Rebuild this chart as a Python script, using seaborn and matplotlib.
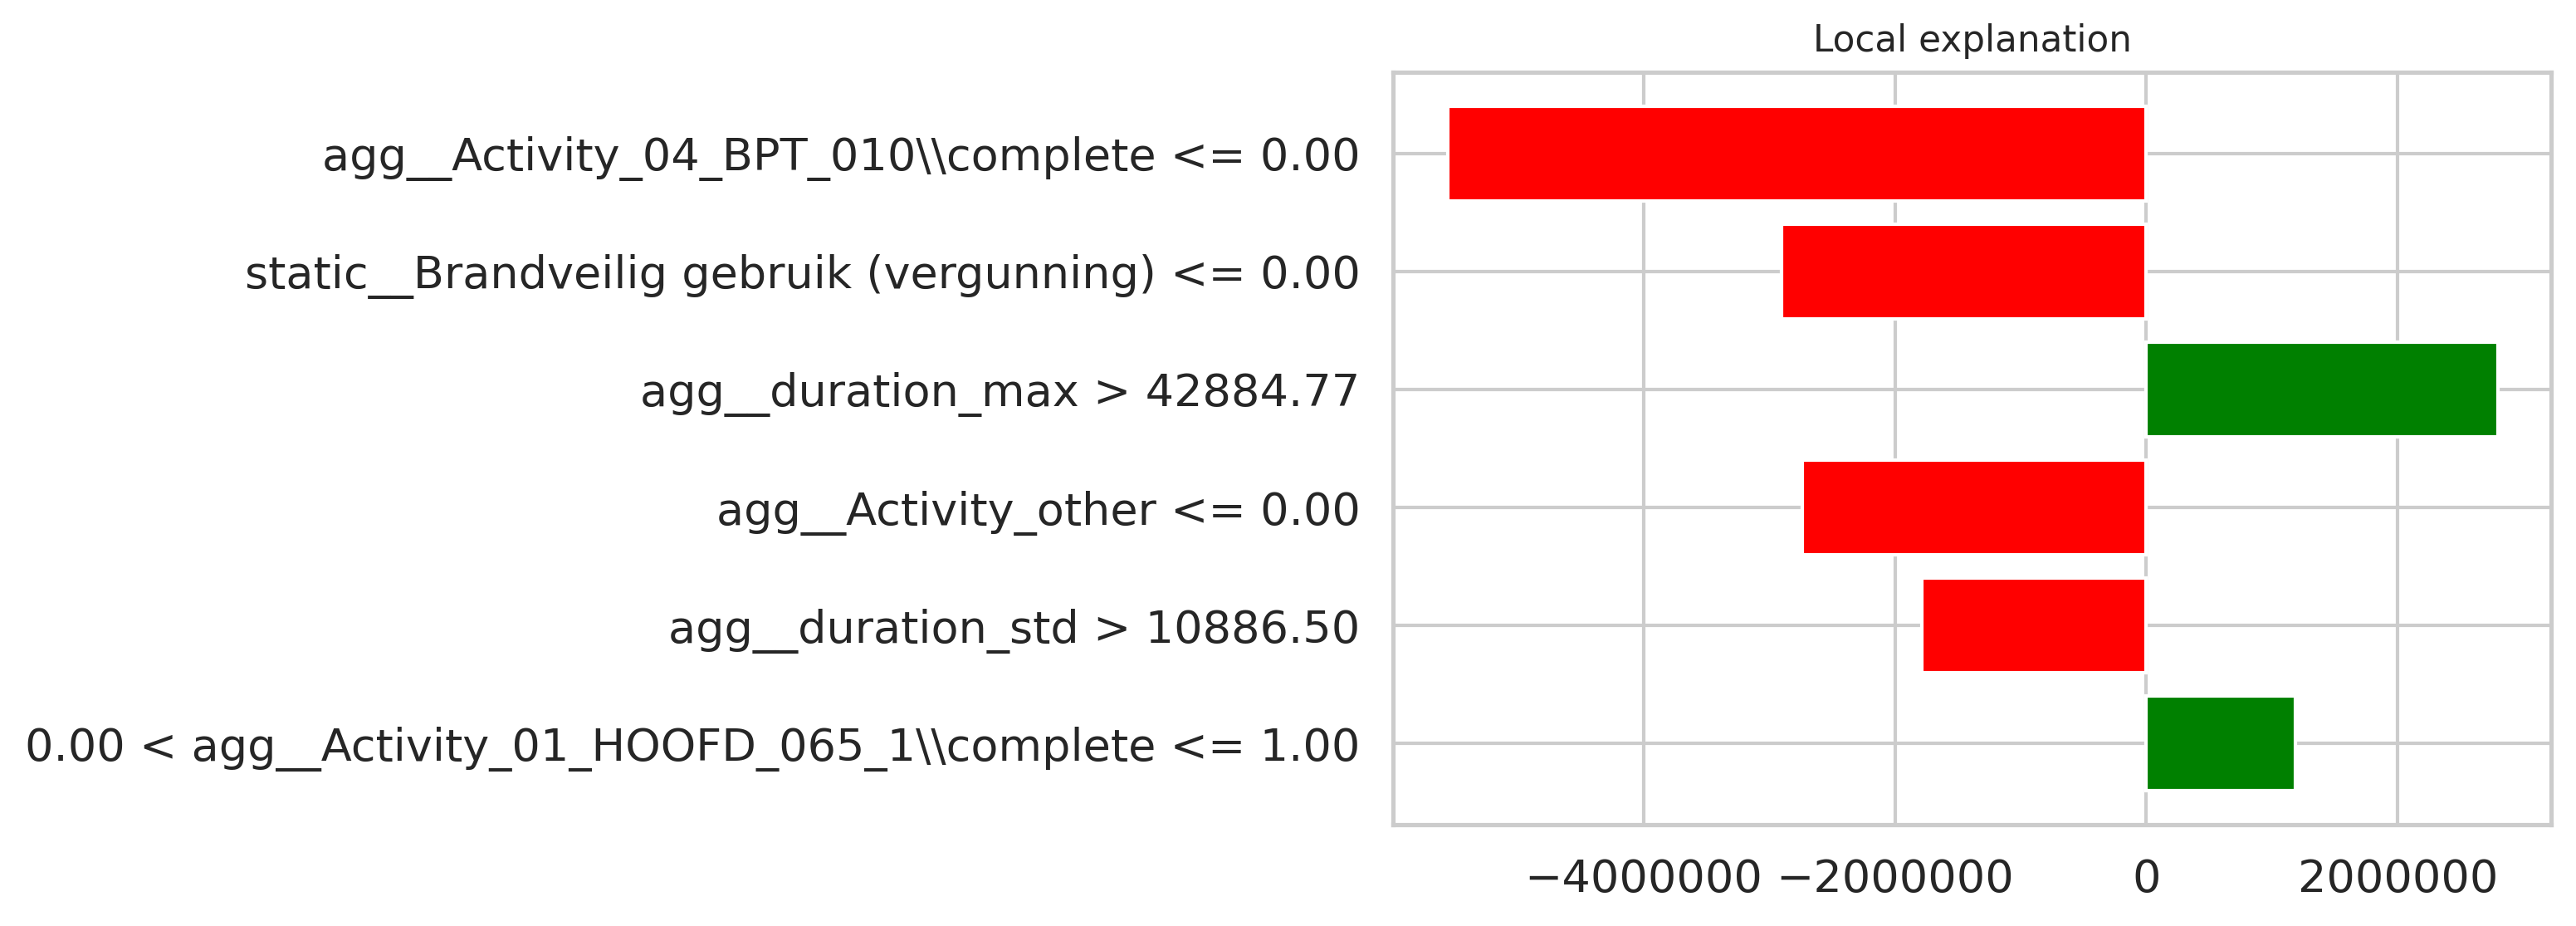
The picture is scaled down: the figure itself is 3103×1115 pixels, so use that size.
import matplotlib
matplotlib.use("Agg")
import matplotlib.pyplot as plt
import seaborn as sns

# LIME local explanation weights
features = [
    "agg__Activity_04_BPT_010\\\\complete <= 0.00",
    "static__Brandveilig gebruik (vergunning) <= 0.00",
    "agg__duration_max > 42884.77",
    "agg__Activity_other <= 0.00",
    "agg__duration_std > 10886.50",
    "0.00 < agg__Activity_01_HOOFD_065_1\\\\complete <= 1.00",
]
weights = [-5560000, -2905000, 2795000, -2740000, -1787000, 1185000]
colors = ["green" if w > 0 else "red" for w in weights]

sns.set_theme(style="whitegrid")
plt.rcParams['font.family'] = ['DejaVu Sans']

fig = plt.figure(figsize=(3103 / 300, 1115 / 300), dpi=300)
ax = fig.add_axes([1678 / 3103, 1 - 993 / 1115, (3073 - 1678) / 3103, (993 - 87) / 1115])

sns.barplot(x=weights, y=features, hue=features, palette=colors, legend=False,
            orient="h", width=0.8, edgecolor="white", linewidth=1, saturation=1, ax=ax)

ax.set_title("Local explanation", fontsize=10.5)
ax.set_xlabel("")
ax.set_ylabel("")
ax.set_xticks([-4000000, -2000000, 0, 2000000])
ax.set_xticklabels(["\u22124000000", "\u22122000000", "0", "2000000"])
ax.tick_params(axis="both", labelsize=13)
ax.set_xlim(-5996000, 3221000)
# matplotlib-like margins on the category axis, top item first
ax.set_ylim(len(features) - 1 + 0.69, -0.69)
ax.xaxis.grid(True)
ax.yaxis.grid(True)

fig.savefig("out.png", dpi=300)
